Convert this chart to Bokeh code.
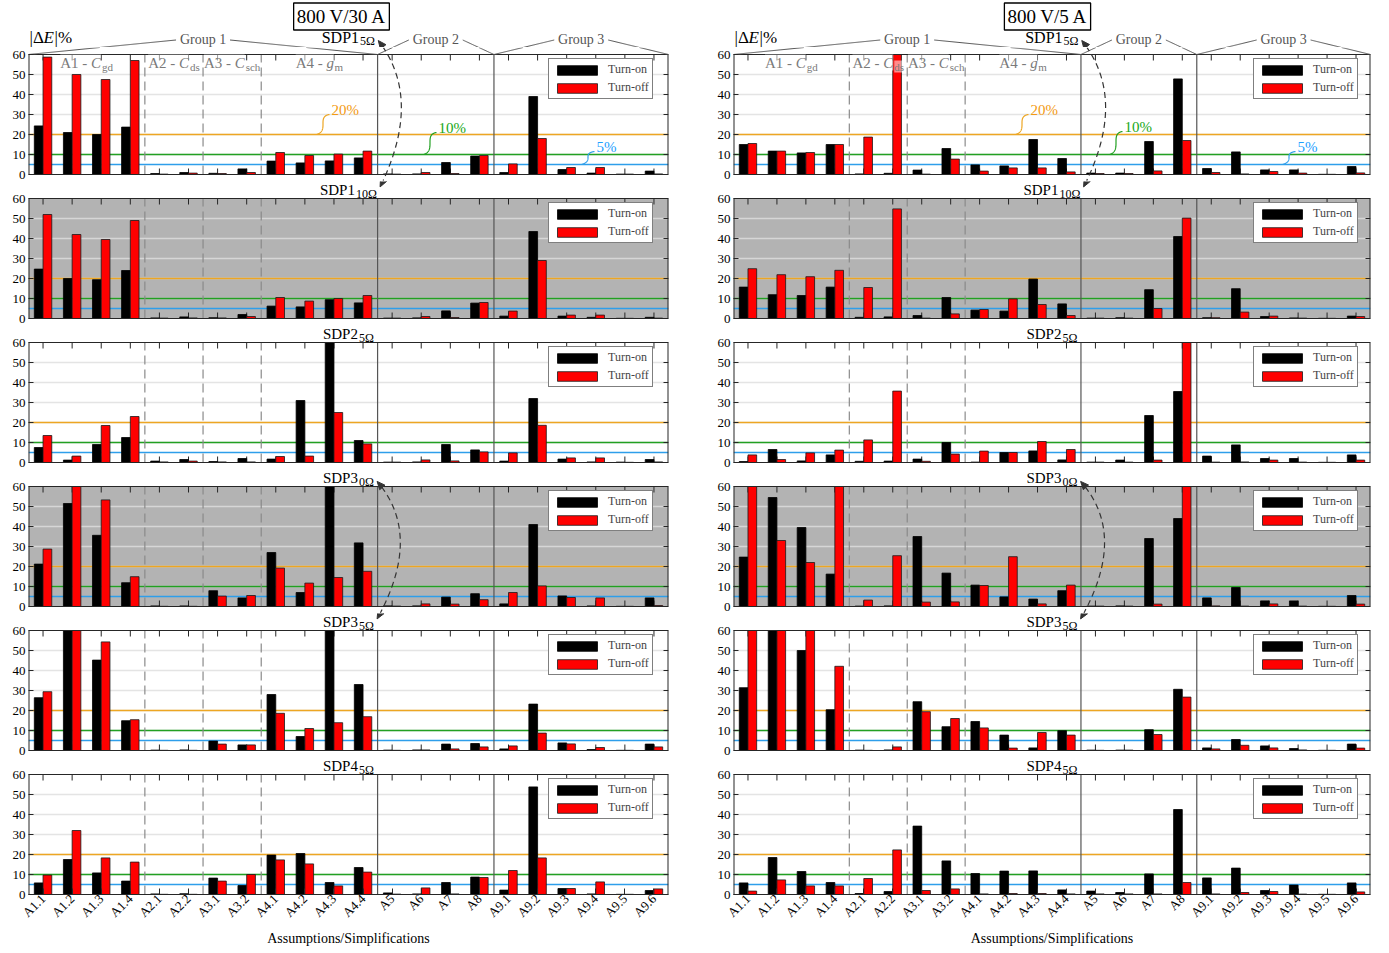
import math
import numpy as np
from bokeh.plotting import figure
from bokeh.models import (ColumnDataSource, FactorRange, Range1d, Label,
                          FixedTicker, Legend, LegendItem)
from bokeh.transform import dodge
from bokeh.layouts import column, row
from bokeh.embed import file_html
from bokeh.resources import INLINE

# ---------------- data ----------------
categories = ["A1.1", "A1.2", "A1.3", "A1.4", "A2.1", "A2.2", "A3.1", "A3.2",
              "A4.1", "A4.2", "A4.3", "A4.4", "A5", "A6", "A7", "A8",
              "A9.1", "A9.2", "A9.3", "A9.4", "A9.5", "A9.6"]

conditions = ["800 V/30 A", "800 V/5 A"]
panel_names = [("SDP1", "5Ω"), ("SDP1", "10Ω"), ("SDP2", "5Ω"),
               ("SDP3", "0Ω"), ("SDP3", "5Ω"), ("SDP4", "5Ω")]
series_names = ["Turn-on", "Turn-off"]
group_labels = ["Group 1", "Group 2", "Group 3"]
group_bounds = [(0, 12), (12, 16), (16, 22)]
threshold_values = [20, 10, 5]
threshold_labels = ["20%", "10%", "5%"]
y_ticks = [0, 10, 20, 30, 40, 50, 60]
grid_values = [10, 20, 30, 40, 50]
x_title = "Assumptions/Simplifications"

# 800 V / 30 A  (values above 60 run past the axis top)
sdp1_5_30a_on = [24.3, 21.0, 20.0, 23.7, 0.5, 1.0, 0.6, 2.8, 6.7, 5.8, 6.8, 8.3, 0.3, 0.3, 6.0, 9.2, 1.0, 39.0, 2.5, 0.7, 0.2, 1.7]
sdp1_5_30a_off = [58.7, 50.0, 47.5, 57.0, 0.2, 0.7, 0.5, 1.0, 11.0, 9.5, 10.2, 11.7, 0.2, 1.0, 0.5, 9.5, 5.3, 18.0, 3.5, 3.5, 0.2, 0.3]
sdp1_10_30a_on = [24.7, 20.0, 19.4, 24.0, 0.3, 0.8, 0.4, 2.0, 6.2, 5.8, 9.4, 7.8, 0.2, 0.3, 3.8, 7.7, 1.2, 43.5, 1.2, 0.6, 0.1, 0.6]
sdp1_10_30a_off = [52.0, 42.0, 39.5, 49.0, 0.2, 0.3, 0.3, 1.0, 10.5, 8.7, 10.0, 11.5, 0.2, 1.0, 0.5, 8.0, 3.7, 29.0, 1.7, 1.7, 0.1, 0.2]
sdp2_5_30a_on = [7.5, 1.2, 9.0, 12.5, 0.7, 1.5, 0.5, 2.0, 1.7, 31.0, 62.0, 11.0, 0.2, 0.3, 9.0, 6.3, 0.7, 32.0, 1.7, 0.3, 0.2, 1.5]
sdp2_5_30a_off = [13.5, 3.2, 18.5, 23.0, 0.3, 0.7, 0.3, 0.3, 3.0, 3.2, 25.0, 9.3, 0.2, 1.3, 0.8, 5.3, 4.8, 18.6, 2.3, 2.3, 0.1, 0.3]
sdp3_0_30a_on = [21.2, 51.5, 35.6, 11.9, 0.3, 0.3, 7.9, 4.3, 27.0, 7.0, 62.0, 31.8, 0.3, 0.3, 4.7, 6.4, 1.3, 41.0, 5.3, 0.3, 0.1, 4.3]
sdp3_0_30a_off = [28.7, 62.0, 53.3, 14.9, 0.1, 0.1, 5.2, 5.5, 19.2, 11.7, 14.5, 17.6, 0.2, 1.3, 1.2, 3.4, 7.0, 10.3, 4.5, 4.3, 0.1, 0.5]
sdp3_5_30a_on = [26.4, 62.0, 45.2, 14.9, 0.2, 0.3, 4.7, 2.8, 28.0, 7.0, 62.0, 33.0, 0.2, 0.3, 3.2, 3.5, 0.8, 23.2, 3.8, 0.5, 0.1, 3.2]
sdp3_5_30a_off = [29.4, 62.0, 54.3, 15.4, 0.1, 0.1, 3.2, 2.8, 18.6, 11.0, 13.9, 16.9, 0.1, 0.3, 0.8, 1.8, 2.3, 8.7, 3.3, 1.5, 0.1, 1.8]
sdp4_5_30a_on = [5.8, 17.5, 10.8, 6.7, 0.3, 0.4, 8.2, 4.5, 19.7, 20.5, 6.0, 13.5, 0.8, 0.3, 6.0, 8.7, 2.2, 53.8, 3.0, 0.3, 0.1, 2.0]
sdp4_5_30a_off = [9.7, 32.0, 18.3, 16.2, 0.1, 0.1, 6.7, 10.0, 17.3, 15.3, 4.3, 11.2, 0.2, 3.3, 0.3, 8.5, 12.0, 18.3, 3.0, 6.3, 0.1, 2.8]

# 800 V / 5 A
sdp1_5_5a_on = [15.0, 11.7, 10.8, 15.0, 0.3, 0.6, 2.2, 13.0, 4.8, 4.3, 17.5, 8.0, 0.7, 0.7, 16.5, 47.8, 3.0, 11.3, 2.3, 2.3, 0.1, 4.0]
sdp1_5_5a_off = [15.5, 11.7, 11.0, 15.0, 18.7, 62.0, 0.2, 7.7, 1.7, 3.3, 3.3, 1.3, 0.5, 0.5, 1.8, 17.0, 1.0, 0.3, 1.5, 0.7, 0.1, 0.8]
sdp1_10_5a_on = [15.7, 11.9, 11.5, 15.7, 0.6, 0.8, 1.5, 10.5, 4.2, 3.7, 19.7, 7.3, 0.2, 0.4, 14.4, 41.0, 0.4, 14.9, 1.0, 0.3, 0.1, 1.2]
sdp1_10_5a_off = [24.9, 21.9, 20.9, 24.1, 15.5, 54.8, 0.2, 2.3, 4.5, 9.8, 7.0, 1.5, 0.2, 0.2, 5.0, 50.2, 0.4, 3.2, 1.2, 0.2, 0.1, 1.0]
sdp2_5_5a_on = [0.5, 6.5, 0.8, 3.8, 0.6, 0.7, 1.7, 10.0, 0.2, 5.0, 5.8, 1.3, 0.2, 1.2, 23.5, 35.5, 3.2, 8.8, 2.0, 2.0, 0.1, 3.8]
sdp2_5_5a_off = [3.8, 1.5, 4.8, 6.2, 11.3, 35.7, 0.6, 4.2, 5.7, 5.0, 10.5, 6.5, 0.2, 0.2, 1.2, 62.0, 0.2, 0.3, 1.2, 0.2, 0.1, 1.2]
sdp3_0_5a_on = [24.7, 54.5, 39.5, 16.2, 0.2, 0.3, 35.0, 16.7, 10.7, 4.8, 3.7, 7.9, 0.2, 0.3, 34.0, 44.0, 4.3, 9.5, 2.8, 2.8, 0.1, 5.5]
sdp3_0_5a_off = [62.0, 33.0, 22.0, 62.0, 3.2, 25.4, 2.2, 2.3, 10.5, 24.9, 1.3, 10.7, 0.2, 0.2, 1.2, 62.0, 0.3, 0.2, 1.3, 0.2, 0.1, 1.2]
sdp3_5_5a_on = [31.4, 62.0, 50.0, 20.4, 0.2, 0.3, 24.4, 11.9, 14.5, 7.7, 1.3, 9.9, 0.2, 0.2, 10.4, 30.6, 1.3, 5.5, 2.3, 1.0, 0.1, 3.2]
sdp3_5_5a_off = [62.0, 62.0, 62.0, 42.1, 0.1, 1.8, 19.4, 16.0, 11.3, 1.2, 9.0, 7.7, 0.1, 0.2, 8.0, 26.7, 0.8, 2.6, 1.3, 0.3, 0.1, 1.2]
sdp4_5_5a_on = [5.8, 18.5, 11.5, 6.0, 0.5, 1.5, 34.2, 16.8, 10.5, 11.7, 11.8, 2.3, 1.7, 1.0, 10.3, 42.5, 8.3, 13.2, 2.0, 4.7, 0.1, 5.8]
sdp4_5_5a_off = [1.7, 7.3, 4.3, 4.3, 8.0, 22.3, 2.0, 2.8, 0.3, 0.5, 0.5, 0.3, 0.3, 0.3, 0.3, 6.0, 0.3, 1.0, 1.5, 0.2, 0.1, 1.3]

series_30a = [(sdp1_5_30a_on, sdp1_5_30a_off), (sdp1_10_30a_on, sdp1_10_30a_off),
              (sdp2_5_30a_on, sdp2_5_30a_off), (sdp3_0_30a_on, sdp3_0_30a_off),
              (sdp3_5_30a_on, sdp3_5_30a_off), (sdp4_5_30a_on, sdp4_5_30a_off)]
series_5a = [(sdp1_5_5a_on, sdp1_5_5a_off), (sdp1_10_5a_on, sdp1_10_5a_off),
             (sdp2_5_5a_on, sdp2_5_5a_off), (sdp3_0_5a_on, sdp3_0_5a_off),
             (sdp3_5_5a_on, sdp3_5_5a_off), (sdp4_5_5a_on, sdp4_5_5a_off)]

# ---------------- style and layout ----------------
FONT = "Liberation Serif"
EDGE = "#262626"
GRAY_BG = "#b3b3b3"
TH_LINE = ["#EDA623", "#22A022", "#2E9EEA"]
TH_TEXT = ["#F39A12", "#18A818", "#1EA0FF"]
NCAT = len(categories)
Y_MAX = 60

COL_L = [28, 733]
COL_W = [640, 637]
BL = [28, 45]
BR = [20, 10]
HEADER_H = 47
FH = 120
T = [54 + 144 * k for k in range(6)]
BAND_TOP = [HEADER_H] + [T[k] - 17 for k in range(1, 6)]
BAND_BOT = [T[k] + 127 for k in range(5)] + [T[5] + FH]
BOTTOM_BORDER = 50


class Tile:
    def __init__(self, fig, x0, x1, y0, y1, fx, fy):
        self.fig, self.x0, self.x1, self.y0, self.y1 = fig, x0, x1, y0, y1
        self.fx, self.fy = fx, fy

    def contains(self, px, py):
        return self.x0 <= px <= self.x1 and self.y0 <= py < self.y1


tiles = [[], []]


def owner(ci, px, py):
    for t in tiles[ci]:
        if t.contains(px, py):
            return t
    return None


def put_label(ci, px, py, text, size, color="black", style="normal", align="left", **kw):
    t = owner(ci, px, py)
    t.fig.add_layout(Label(x=t.fx(px), y=t.fy(py), text=text, text_font=FONT,
                           text_font_size=f"{size}px", text_color=color,
                           text_font_style=style, text_align=align,
                           text_baseline="middle", **kw))


def draw_path(ci, pts, color, width=1.0):
    dense = [pts[0]]
    for (xa, ya), (xb, yb) in zip(pts[:-1], pts[1:]):
        n = max(1, int(math.ceil(math.hypot(xb - xa, yb - ya))))
        for i in range(1, n + 1):
            dense.append((xa + (xb - xa) * i / n, ya + (yb - ya) * i / n))
    runs, cur_t, cur = [], None, []
    for a, b in zip(dense[:-1], dense[1:]):
        t = owner(ci, (a[0] + b[0]) / 2, (a[1] + b[1]) / 2)
        if t is not cur_t:
            if cur_t is not None and len(cur) > 1:
                runs.append((cur_t, cur))
            cur_t, cur = t, [a]
        cur.append(b)
    if cur_t is not None and len(cur) > 1:
        runs.append((cur_t, cur))
    for t, run in runs:
        t.fig.line([t.fx(x) for x, _ in run], [t.fy(y) for _, y in run],
                   line_color=color, line_width=width)


def cubic(p0, c0, c1, p1, n=80):
    s = np.linspace(0, 1, n)
    x = (1 - s) ** 3 * p0[0] + 3 * (1 - s) ** 2 * s * c0[0] + 3 * (1 - s) * s ** 2 * c1[0] + s ** 3 * p1[0]
    y = (1 - s) ** 3 * p0[1] + 3 * (1 - s) ** 2 * s * c0[1] + 3 * (1 - s) * s ** 2 * c1[1] + s ** 3 * p1[1]
    return list(zip(x, y))


def build_header(ci):
    L, W = COL_L[ci], COL_W[ci]
    p = figure(x_range=Range1d(L, L + W), y_range=Range1d(HEADER_H, 0),
               frame_width=W, frame_height=HEADER_H,
               min_border_left=BL[ci], min_border_right=BR[ci],
               min_border_top=0, min_border_bottom=0,
               x_axis_location=None, y_axis_location=None,
               output_backend="svg", toolbar_location=None,
               background_fill_color="white", border_fill_color="white",
               outline_line_color=None)
    p.grid.visible = False
    tiles[ci].append(Tile(p, L, L + W, 0, HEADER_H, lambda v: v, lambda v: v))
    return p


def build_panel(ci, k, on_vals, off_vals):
    gray = k in (1, 3)
    bottom = (k == 5)
    L, W = COL_L[ci], COL_W[ci]
    y_lo = (T[k] + FH - BAND_BOT[k]) / 2.0
    y_hi = (T[k] + FH - BAND_TOP[k]) / 2.0
    p = figure(x_range=FactorRange(factors=categories, range_padding=0),
               y_range=Range1d(y_lo, y_hi),
               frame_width=W, frame_height=BAND_BOT[k] - BAND_TOP[k],
               min_border_left=BL[ci], min_border_right=BR[ci],
               min_border_top=0, min_border_bottom=BOTTOM_BORDER if bottom else 0,
               x_axis_location="below" if bottom else None,
               output_backend="svg", toolbar_location=None,
               background_fill_color="white", border_fill_color="white",
               outline_line_color=None)
    p.grid.visible = False
    ya = p.yaxis[0]
    ya.ticker = FixedTicker(ticks=y_ticks)
    ya.major_tick_in = 5
    ya.major_tick_out = 0
    ya.minor_tick_line_color = None
    ya.axis_line_color = None
    ya.major_tick_line_color = EDGE
    ya.major_label_text_font = FONT
    ya.major_label_text_font_size = "13px"
    ya.major_label_text_color = "black"
    ya.major_label_standoff = 3
    if bottom:
        xa = p.xaxis[0]
        xa.major_tick_in = 6
        xa.major_tick_out = 0
        xa.axis_line_color = EDGE
        xa.major_tick_line_color = EDGE
        xa.major_label_orientation = math.pi / 4
        xa.major_label_text_font = FONT
        xa.major_label_text_font_size = "13px"
        xa.major_label_text_color = "black"
        xa.major_label_standoff = 2
        xa.axis_label = x_title
        xa.axis_label_text_font = FONT
        xa.axis_label_text_font_size = "14px"
        xa.axis_label_text_font_style = "normal"
        xa.axis_label_text_color = "black"
        xa.axis_label_standoff = 3

    n = NCAT
    if gray:
        p.quad(left=[0], right=[n], bottom=[0], top=[Y_MAX], fill_color=GRAY_BG, line_color=None)
    p.segment(x0=[0] * len(grid_values), x1=[n] * len(grid_values), y0=grid_values, y1=grid_values,
              line_color="#d6d6d6" if gray else "#e4e4e4", line_width=1.6)
    p.segment(x0=[0] * 3, x1=[n] * 3, y0=threshold_values, y1=threshold_values,
              line_color=TH_LINE, line_width=1.5)
    p.segment(x0=[4, 6, 8], x1=[4, 6, 8], y0=[0] * 3, y1=[Y_MAX] * 3,
              line_color="#8a8a8a", line_dash="9 5", line_width=1.2)
    p.segment(x0=[12, 16], x1=[12, 16], y0=[0] * 2, y1=[Y_MAX] * 2,
              line_color="#555555", line_width=1.2)
    # inward ticks on top / bottom / right sides
    p.segment(x0=categories, x1=categories, y0=[Y_MAX] * n, y1=[Y_MAX - 3] * n,
              line_color=EDGE, line_width=1)
    if not bottom:
        p.segment(x0=categories, x1=categories, y0=[0] * n, y1=[3] * n, line_color=EDGE, line_width=1)
    tl = 5.0 / (W / n)
    p.segment(x0=[n] * len(y_ticks), x1=[n - tl] * len(y_ticks), y0=y_ticks, y1=y_ticks,
              line_color=EDGE, line_width=1)

    src = ColumnDataSource(dict(cat=categories,
                                on=np.minimum(on_vals, Y_MAX),
                                off=np.minimum(off_vals, Y_MAX)))
    r_on = p.vbar(x=dodge("cat", -0.15, range=p.x_range), top="on", width=0.3, source=src,
                  fill_color="black", line_color="black", line_width=0.8)
    r_off = p.vbar(x=dodge("cat", 0.15, range=p.x_range), top="off", width=0.3, source=src,
                   fill_color="#ff0000", line_color="#1a1a1a", line_width=0.8)
    # plot box
    p.segment(x0=[0, n], x1=[0, n], y0=[0, 0], y1=[Y_MAX, Y_MAX], line_color=EDGE, line_width=2)
    p.segment(x0=[0, 0], x1=[n, n], y0=[0, Y_MAX], y1=[0, Y_MAX], line_color=EDGE, line_width=1)

    y_loc = (BAND_BOT[k] - (T[k] + 8)) - 37
    legend = Legend(items=[LegendItem(label=series_names[0], renderers=[r_on]),
                           LegendItem(label=series_names[1], renderers=[r_off])],
                    location=(520, y_loc), orientation="vertical",
                    label_text_font=FONT, label_text_font_size="12px",
                    glyph_width=50, glyph_height=12, label_height=13, label_standoff=6,
                    spacing=3, padding=3, margin=0,
                    border_line_color="black", border_line_width=1,
                    background_fill_color="white", background_fill_alpha=1)
    p.add_layout(legend)

    tiles[ci].append(Tile(p, L, L + W, BAND_TOP[k], BAND_BOT[k],
                          lambda v, L=L, W=W: (v - L) / W * NCAT,
                          lambda v, k=k: (T[k] + FH - v) / 2.0))
    return p


figs = [[], []]
for ci, series in enumerate([series_30a, series_5a]):
    figs[ci].append(build_header(ci))
    for k, (on_vals, off_vals) in enumerate(series):
        figs[ci].append(build_panel(ci, k, on_vals, off_vals))

# ---------------- panel titles ----------------
title_pos = [[], []]
for ci in range(2):
    cx = COL_L[ci] + COL_W[ci] / 2
    for k, (main, sub) in enumerate(panel_names):
        if k == 0:
            size, mw, ty, sy = 16, 37.3, 36.5, 40.0
        else:
            size, mw, ty, sy = 15, 35.0, T[k] - 8.6, T[k] - 4.7
        sw = {"5Ω": 15.2, "10Ω": 21.2, "0Ω": 15.2}[sub]
        left = cx - (mw + 1 + sw) / 2
        junction = left + mw
        put_label(ci, junction, ty, main, size, align="right")
        put_label(ci, junction + 1, sy, sub, 12, align="left")
        title_pos[ci].append((junction + 1 + sw, ty))

# ---------------- header annotations ----------------
box_center = [341, 1047]
pct_pos = [[(303, 109), (410, 127), (568, 146)], [(297, 109), (391, 126), (564, 146)]]
sub_parts = [
    (2, [("A1 - ", "normal", 15, 0, 30.8), ("C", "italic", 15, 0, 11.0), ("gd", "normal", 11, 4, 11.0)]),
    (5, [("A2 - ", "normal", 15, 0, 30.8), ("C", "italic", 15, 0, 11.0), ("ds", "normal", 11, 4, 9.8)]),
    (7, [("A3 - ", "normal", 15, 0, 30.8), ("C", "italic", 15, 0, 11.0), ("sch", "normal", 11, 4, 14.7)]),
    (10, [("A4 - ", "normal", 15, 0, 30.8), ("g", "italic", 15, 0, 8.0), ("m", "normal", 11, 4, 8.6)]),
]

for ci in range(2):
    L, W = COL_L[ci], COL_W[ci]
    cw = W / NCAT
    put_label(ci, box_center[ci], 16, conditions[ci], 19, align="center",
              border_line_color="black", border_line_width=1.3,
              background_fill_color="white", padding=3)
    x0 = L + 1
    put_label(ci, x0, 37.2, "|Δ", 17)
    put_label(ci, x0 + 14, 37.2, "E", 17, style="italic")
    put_label(ci, x0 + 25, 37.2, "|%", 17)
    for (g0, g1), name in zip(group_bounds, group_labels):
        gx = L + (g0 + g1) / 2 * cw
        put_label(ci, gx, 38.7, name, 14, color="#555555", align="center")
        draw_path(ci, [(L + g0 * cw, T[0]), (gx - 27, 39.5)], "#555555", 1.0)
        draw_path(ci, [(gx + 27, 39.5), (L + g1 * cw, T[0])], "#555555", 1.0)
    for center, parts in sub_parts:
        total = sum(pt[4] for pt in parts)
        xs = L + center * cw - total / 2
        for txt, style, size, dy, w in parts:
            put_label(ci, xs, 62 + dy, txt, size, color="#7a7a7a", style=style,
                      background_fill_color="white", background_fill_alpha=0.55)
            xs += w
    for (rx, ly), txt, v, tcol, lcol in zip(pct_pos[ci], threshold_labels, threshold_values,
                                            TH_TEXT, TH_LINE):
        lx = L + rx
        put_label(ci, lx, ly, txt, 15, color=tcol)
        sx, sy = lx - 2, ly + 5
        ex, ey = lx - 15, T[0] + FH - 2 * v
        draw_path(ci, cubic((sx, sy), (sx - 13, sy + 2), (ex + 13, ey - 4), (ex, ey)), lcol, 1.2)


# ---------------- dashed double arrows linking panel titles ----------------
def arrow_head(ci, tip, towards, size=8, half=3.5):
    dx, dy = towards[0] - tip[0], towards[1] - tip[1]
    n = math.hypot(dx, dy)
    ux, uy = dx / n, dy / n
    bx, by = tip[0] + size * ux, tip[1] + size * uy
    pts = [tip, (bx - half * uy, by + half * ux), (bx + half * uy, by - half * ux)]
    t = owner(ci, *tip)
    t.fig.patch([t.fx(x) for x, _ in pts], [t.fy(y) for _, y in pts],
                fill_color="#333333", line_color="#333333", line_width=1)


def dashed_link(ci, k_from, k_to):
    ea, ta = title_pos[ci][k_from]
    eb, tb = title_pos[ci][k_to]
    a = (ea + 3, ta + 3.5)
    b = (eb + 3, tb - 3)
    c = (COL_L[ci] + 395, (a[1] + b[1]) / 2 - 15)
    s = np.linspace(0, 1, 600)
    xs = (1 - s) ** 2 * a[0] + 2 * (1 - s) * s * c[0] + s ** 2 * b[0]
    ys = (1 - s) ** 2 * a[1] + 2 * (1 - s) * s * c[1] + s ** 2 * b[1]
    arc = np.concatenate([[0], np.cumsum(np.hypot(np.diff(xs), np.diff(ys)))])
    total = arc[-1]
    pos = 7.0
    while pos < total - 7:
        end = min(pos + 6, total - 7)
        ss = np.linspace(pos, end, 7)
        pts = list(zip(np.interp(ss, arc, xs), np.interp(ss, arc, ys)))
        draw_path(ci, pts, "#333333", 1.2)
        pos += 10
    arrow_head(ci, a, c)
    arrow_head(ci, b, c)


for ci in range(2):
    dashed_link(ci, 0, 1)
    dashed_link(ci, 3, 4)

layout = row(column(*figs[0]), column(*figs[1]))
open("out.html", "w").write(file_html(layout, INLINE))
